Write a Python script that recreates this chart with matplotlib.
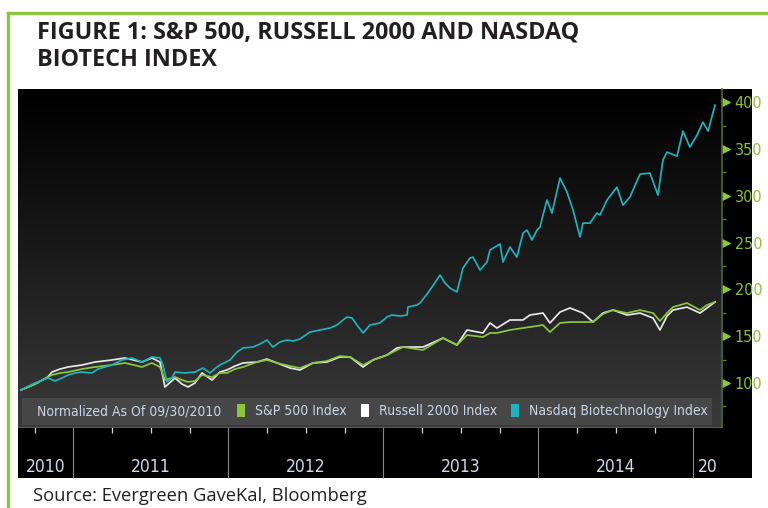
import numpy as np
import matplotlib
matplotlib.use('Agg')
import matplotlib.pyplot as plt
from matplotlib import font_manager as fm
from matplotlib.patches import Rectangle, Patch
from matplotlib.colors import LinearSegmentedColormap
from matplotlib.ticker import FixedLocator
from matplotlib.lines import Line2D
from matplotlib.path import Path
import matplotlib.transforms as mtransforms

# ---------------- data ----------------
# Nasdaq Biotechnology Index, normalized (fractional year, level)
nbi_t = [2010.661, 2010.752, 2010.835, 2010.881, 2010.926, 2010.965, 2011.010, 2011.055, 2011.119, 2011.158,
         2011.203, 2011.248, 2011.313, 2011.377, 2011.442, 2011.481, 2011.506, 2011.558, 2011.577, 2011.603,
         2011.635, 2011.655, 2011.719, 2011.784, 2011.835, 2011.881, 2011.926, 2011.945, 2012.010, 2012.055,
         2012.094, 2012.158, 2012.203, 2012.248, 2012.287, 2012.332, 2012.377, 2012.416, 2012.461, 2012.526,
         2012.590, 2012.655, 2012.700, 2012.739, 2012.765, 2012.797, 2012.829, 2012.868, 2012.913, 2012.977,
         2013.023, 2013.055, 2013.106, 2013.152, 2013.158, 2013.216, 2013.235, 2013.281, 2013.313, 2013.365,
         2013.397, 2013.429, 2013.474, 2013.513, 2013.558, 2013.577, 2013.623, 2013.668, 2013.687, 2013.752,
         2013.771, 2013.816, 2013.861, 2013.900, 2013.926, 2013.958, 2013.990, 2014.010, 2014.029, 2014.055,
         2014.087, 2014.139, 2014.184, 2014.223, 2014.268, 2014.287, 2014.332, 2014.377, 2014.397, 2014.442,
         2014.506, 2014.545, 2014.590, 2014.655, 2014.719, 2014.771, 2014.803, 2014.829, 2014.894, 2014.932,
         2014.977, 2015.023, 2015.061, 2015.094, 2015.139]
nbi = [92.5, 100.0, 105.3, 102.1, 105.3, 108.5, 110.7, 111.7, 110.7, 114.9,
       117.1, 119.2, 124.6, 126.7, 122.4, 125.6, 127.8, 126.7, 119.2, 101.1,
       105.3, 111.7, 110.7, 111.7, 116.0, 110.7, 117.1, 119.2, 124.6, 133.1,
       137.4, 138.4, 141.6, 145.9, 138.4, 143.8, 145.9, 144.8, 147.0, 154.4,
       156.6, 158.7, 161.9, 167.3, 170.5, 169.4, 161.9, 153.4, 161.9, 164.1,
       170.5, 172.6, 171.5, 172.6, 181.1, 183.3, 185.4, 195.0, 202.5, 215.3,
       206.8, 201.4, 197.2, 222.8, 233.5, 234.5, 220.6, 229.2, 242.0, 248.4,
       229.2, 245.2, 234.5, 260.1, 263.3, 252.7, 263.3, 266.5, 279.4, 295.4,
       281.5, 318.9, 303.9, 284.7, 255.9, 270.8, 270.8, 281.5, 279.4, 295.4,
       309.2, 290.0, 298.6, 323.1, 324.2, 300.7, 338.1, 346.6, 342.3, 369.0,
       351.9, 364.8, 378.6, 369.0, 396.8]

# S&P 500 and Russell 2000, normalized (shared fractional-year axis)
bm_t = [2010.661, 2010.752, 2010.835, 2010.861, 2010.913, 2010.965, 2011.055, 2011.139, 2011.248, 2011.332,
        2011.442, 2011.506, 2011.558, 2011.590, 2011.655, 2011.700, 2011.739, 2011.784, 2011.829, 2011.894,
        2011.945, 2011.990, 2012.042, 2012.094, 2012.184, 2012.248, 2012.313, 2012.397, 2012.461, 2012.545,
        2012.635, 2012.719, 2012.784, 2012.868, 2012.932, 2013.023, 2013.087, 2013.126, 2013.255, 2013.384,
        2013.474, 2013.539, 2013.642, 2013.687, 2013.732, 2013.816, 2013.900, 2013.945, 2014.029, 2014.074,
        2014.139, 2014.203, 2014.287, 2014.352, 2014.416, 2014.481, 2014.571, 2014.655, 2014.739, 2014.784,
        2014.829, 2014.868, 2014.958, 2015.042, 2015.087, 2015.139]
russell = [92.5, 98.9, 106.4, 111.7, 114.9, 117.1, 119.2, 122.4, 124.6, 126.7,
           122.4, 126.7, 122.4, 95.7, 105.3, 98.9, 95.7, 100.0, 110.7, 103.2,
           111.7, 113.9, 118.1, 121.4, 122.4, 125.6, 121.4, 116.0, 113.9, 121.4,
           122.4, 127.8, 127.8, 117.1, 124.6, 129.9, 137.4, 138.4, 138.4, 148.0,
           140.6, 156.6, 153.4, 164.1, 158.7, 167.3, 167.3, 172.6, 174.7, 164.1,
           175.8, 180.1, 174.7, 165.1, 174.7, 177.9, 172.6, 174.7, 169.4, 156.6,
           171.5, 177.9, 181.1, 174.7, 180.1, 186.5]
spx = [92.5, 98.9, 106.4, 108.5, 110.7, 111.7, 114.9, 117.1, 119.2, 121.4,
       117.1, 121.4, 117.1, 103.2, 106.4, 103.2, 101.1, 102.1, 108.5, 106.4,
       110.7, 110.7, 114.9, 117.1, 122.4, 124.6, 121.4, 118.1, 116.0, 121.4,
       123.5, 128.8, 127.8, 119.2, 124.6, 129.9, 135.2, 138.4, 135.2, 148.0,
       140.6, 151.2, 149.1, 153.4, 153.4, 156.6, 158.7, 159.8, 161.9, 154.4,
       164.1, 165.1, 165.1, 165.1, 173.7, 177.9, 174.7, 177.9, 174.7, 166.2,
       174.7, 181.1, 185.4, 177.9, 183.3, 186.5]

series_labels = ['S&P 500 Index', 'Russell 2000 Index', 'Nasdaq Biotechnology Index']
note_label = 'Normalized As Of 09/30/2010'
y_ticks = [100, 150, 200, 250, 300, 350, 400]
y_minor = [75, 125, 175, 225, 275, 325, 375]
year_starts = [2010, 2011, 2012, 2013, 2014, 2015]
year_labels = ['2010', '2011', '2012', '2013', '2014', '20']
title_lines = ['FIGURE 1: S&P 500, RUSSELL 2000 AND NASDAQ', 'BIOTECH INDEX']
source_text = 'Source: Evergreen GaveKal, Bloomberg'

# ---------------- fonts ----------------
entries = fm.fontManager.ttflist
names = {f.name for f in entries}
if 'Liberation Sans Narrow' in names:
    NARROW = dict(family='Liberation Sans Narrow')
elif any(f.name == 'DejaVu Sans' and f.stretch == 'condensed' for f in entries):
    NARROW = dict(family='DejaVu Sans', stretch='condensed')
else:
    NARROW = dict(family='DejaVu Sans')
TITLE_FONT = 'Open Sans' if 'Open Sans' in names else 'DejaVu Sans'

GREEN = '#8cc63f'
CYAN = '#1fb3bd'
WHITE = '#e8e8e8'
LEG_TXT = '#c9d4e8'

W, H = 768, 508
def fx(px): return px / W
def fy(py): return 1 - py / H

fig = plt.figure(figsize=(7.68, 5.08), dpi=100)
fig.patch.set_facecolor('white')

# green frame (top and left)
fig.add_artist(Line2D([fx(8), 1.0], [fy(13), fy(13)], color=GREEN, lw=2.4, transform=fig.transFigure))
fig.add_artist(Line2D([fx(8), fx(8)], [0.0, fy(13)], color=GREEN, lw=2.4, transform=fig.transFigure))

# black chart panel
fig.add_artist(Rectangle((fx(18), fy(478)), fx(752) - fx(18), fy(89) - fy(478),
                         facecolor='black', edgecolor='none', transform=fig.transFigure, zorder=-1))

# titles
fig.text(fx(37), fy(39), title_lines[0], fontsize=16.8, fontweight='bold', family=TITLE_FONT,
         color='#231f20', va='baseline', ha='left')
fig.text(fx(37), fy(66.5), title_lines[1], fontsize=16.8, fontweight='bold', family=TITLE_FONT,
         color='#231f20', va='baseline', ha='left')
fig.text(fx(33), fy(501), source_text, fontsize=13.2, family=TITLE_FONT,
         color='#231f20', va='baseline', ha='left')

ax = fig.add_axes([fx(18), fy(427), fx(722) - fx(18), fy(89) - fy(427)])
ax.set_facecolor('none')

# gradient background
grad = np.linspace(0, 1, 256).reshape(-1, 1)
cmap = LinearSegmentedColormap.from_list('bg', ['#000000', '#1b1b1b', '#3a3a3a'])
ax.imshow(grad, cmap=cmap, aspect='auto', extent=[0, 1, 0, 1], transform=ax.transAxes,
          origin='upper', zorder=0, interpolation='bilinear')

# legend band
ax.add_patch(Rectangle((0.006, 0.006), 0.98, 0.080, transform=ax.transAxes,
                       facecolor='#474747', edgecolor='none', zorder=1))

# series
ax.plot(bm_t, russell, color=WHITE, lw=1.25, zorder=3)
ax.plot(bm_t, spx, color=GREEN, lw=1.25, zorder=4)
ax.plot(nbi_t, nbi, color=CYAN, lw=1.25, zorder=5)

x0, x1 = 2010.642, 2015.184
ax.set_xlim(x0, x1)
ax.set_ylim(53, 414)

# spines
for s in ['top', 'left']:
    ax.spines[s].set_visible(False)
ax.spines['bottom'].set_color('#5a5a5a')
ax.spines['bottom'].set_linewidth(0.8)
ax.spines['right'].set_color('#4e6b22')
ax.spines['right'].set_linewidth(1.2)

# y axis on right
ax.yaxis.tick_right()
ax.yaxis.set_major_locator(FixedLocator(y_ticks))
ax.yaxis.set_minor_locator(FixedLocator(y_minor))
ax.tick_params(axis='y', which='major', left=False, right=True, length=5, width=1,
               color=GREEN, labelcolor='#8dbf3c', labelsize=11, pad=4)
ax.tick_params(axis='y', which='minor', left=False, right=True, length=3, width=1, color='#5a7a2a')
tri = Path([(0, -1), (2, 0), (0, 1), (0, -1)], [Path.MOVETO, Path.LINETO, Path.LINETO, Path.CLOSEPOLY])
for tk in ax.yaxis.get_major_ticks():
    tk.tick2line.set_marker(tri)
    tk.tick2line.set_markersize(11)
    tk.tick2line.set_markerfacecolor(GREEN)
    tk.tick2line.set_markeredgecolor(GREEN)
for lab in ax.get_yticklabels():
    lab.set_fontproperties(fm.FontProperties(size=11.5, **NARROW))

# x axis: year separators and quarter ticks
ax.xaxis.set_major_locator(FixedLocator(year_starts[1:]))
ax.xaxis.set_minor_locator(FixedLocator(list(np.arange(2010.75, 2015.01, 0.25))))
ax.tick_params(axis='x', which='major', direction='out', length=36.7, width=0.8,
               color='#8a8a8a', labelbottom=False)
ax.tick_params(axis='x', which='minor', direction='out', length=4.5, width=0.9,
               color='#d8d8d8', labelbottom=False)

trans = mtransforms.blended_transform_factory(ax.transData, ax.transAxes)
for yr, lab in zip(year_starts, year_labels):
    a, b = max(x0, yr), min(x1, yr + 1)
    ax.text((a + b) / 2, -0.118, lab, transform=trans, ha='center', va='center',
            color='#d2dcee', fontsize=12.5, clip_on=False, **NARROW)

# legend
ax.text(0.027, 0.046, note_label, transform=ax.transAxes, ha='left', va='center',
        color=LEG_TXT, fontsize=10, zorder=6, **NARROW)
handles = [Patch(facecolor=GREEN, edgecolor='none'), Patch(facecolor='white', edgecolor='none'),
           Patch(facecolor=CYAN, edgecolor='none')]
leg = ax.legend(handles, series_labels, ncol=3, loc='center left',
                bbox_to_anchor=((237 - 18) / 704, 0.046), frameon=False,
                handlelength=0.6, handleheight=1.0, handletextpad=0.7, columnspacing=1.0,
                borderpad=0, borderaxespad=0, prop=fm.FontProperties(size=10, **NARROW),
                labelcolor=LEG_TXT)
leg.set_zorder(6)

fig.savefig('out.png', dpi=100)
